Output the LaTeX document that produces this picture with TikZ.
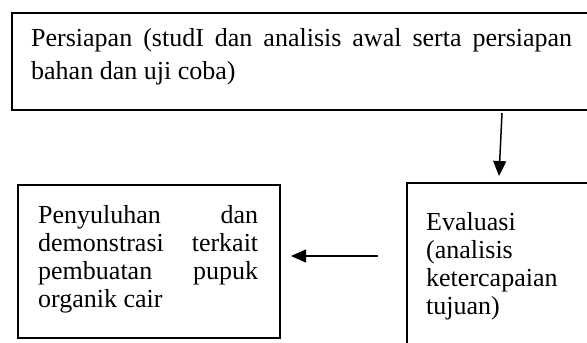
\documentclass[tikz,border=0pt]{standalone}
\usepackage{fontspec}
\setmainfont{Liberation Serif}
\usetikzlibrary{arrows.meta}
\begin{document}
\begin{tikzpicture}[x=1pt,y=-1pt,
  box/.style={draw,line width=1.5pt,anchor=north west,inner sep=0pt},
  txt/.style={anchor=base west,inner sep=0pt,font=\fontsize{26}{30}\selectfont},
  conn/.style={line width=1.5pt,-{Triangle[length=15pt,width=13pt]}}]
\useasboundingbox (0,0) rectangle (587,343);
\clip (0,0) rectangle (587,343);
% top box
\node[box,minimum width=600pt,minimum height=97pt] (top) at (11,12) {};
\node[txt] (t1) at (31,46) {\makebox[541pt][s]{Persiapan (studI dan analisis awal serta persiapan}};
\node[txt] (t2) at (31,79) {bahan dan uji coba)};
% left box
\node[box,minimum width=262pt,minimum height=153pt] (left) at (17,184) {};
\node[txt] (l1) at (38,223) {\makebox[220pt][s]{Penyuluhan \hfill dan}};
\node[txt] (l2) at (38,251) {\makebox[220pt][s]{demonstrasi \hfill terkait}};
\node[txt] (l3) at (38,279) {\makebox[220pt][s]{pembuatan \hfill pupuk}};
\node[txt] (l4) at (38,307) {organik cair};
% right box
\node[box,minimum width=250pt,minimum height=200pt] (right) at (406,182) {};
\node[txt] (r1) at (426,230) {Evaluasi};
\node[txt] (r2) at (426,258) {(analisis};
\node[txt] (r3) at (426,286) {ketercapaian};
\node[txt] (r4) at (426,314) {tujuan)};
% connectors
\coordinate (d1) at (502,113);
\coordinate (d2) at (499,176);
\draw[conn] (d1) -- (d2);
\coordinate (h1) at (378,256);
\coordinate (h2) at (291,256);
\draw[conn] (h1) -- (h2);
\end{tikzpicture}
\end{document}
